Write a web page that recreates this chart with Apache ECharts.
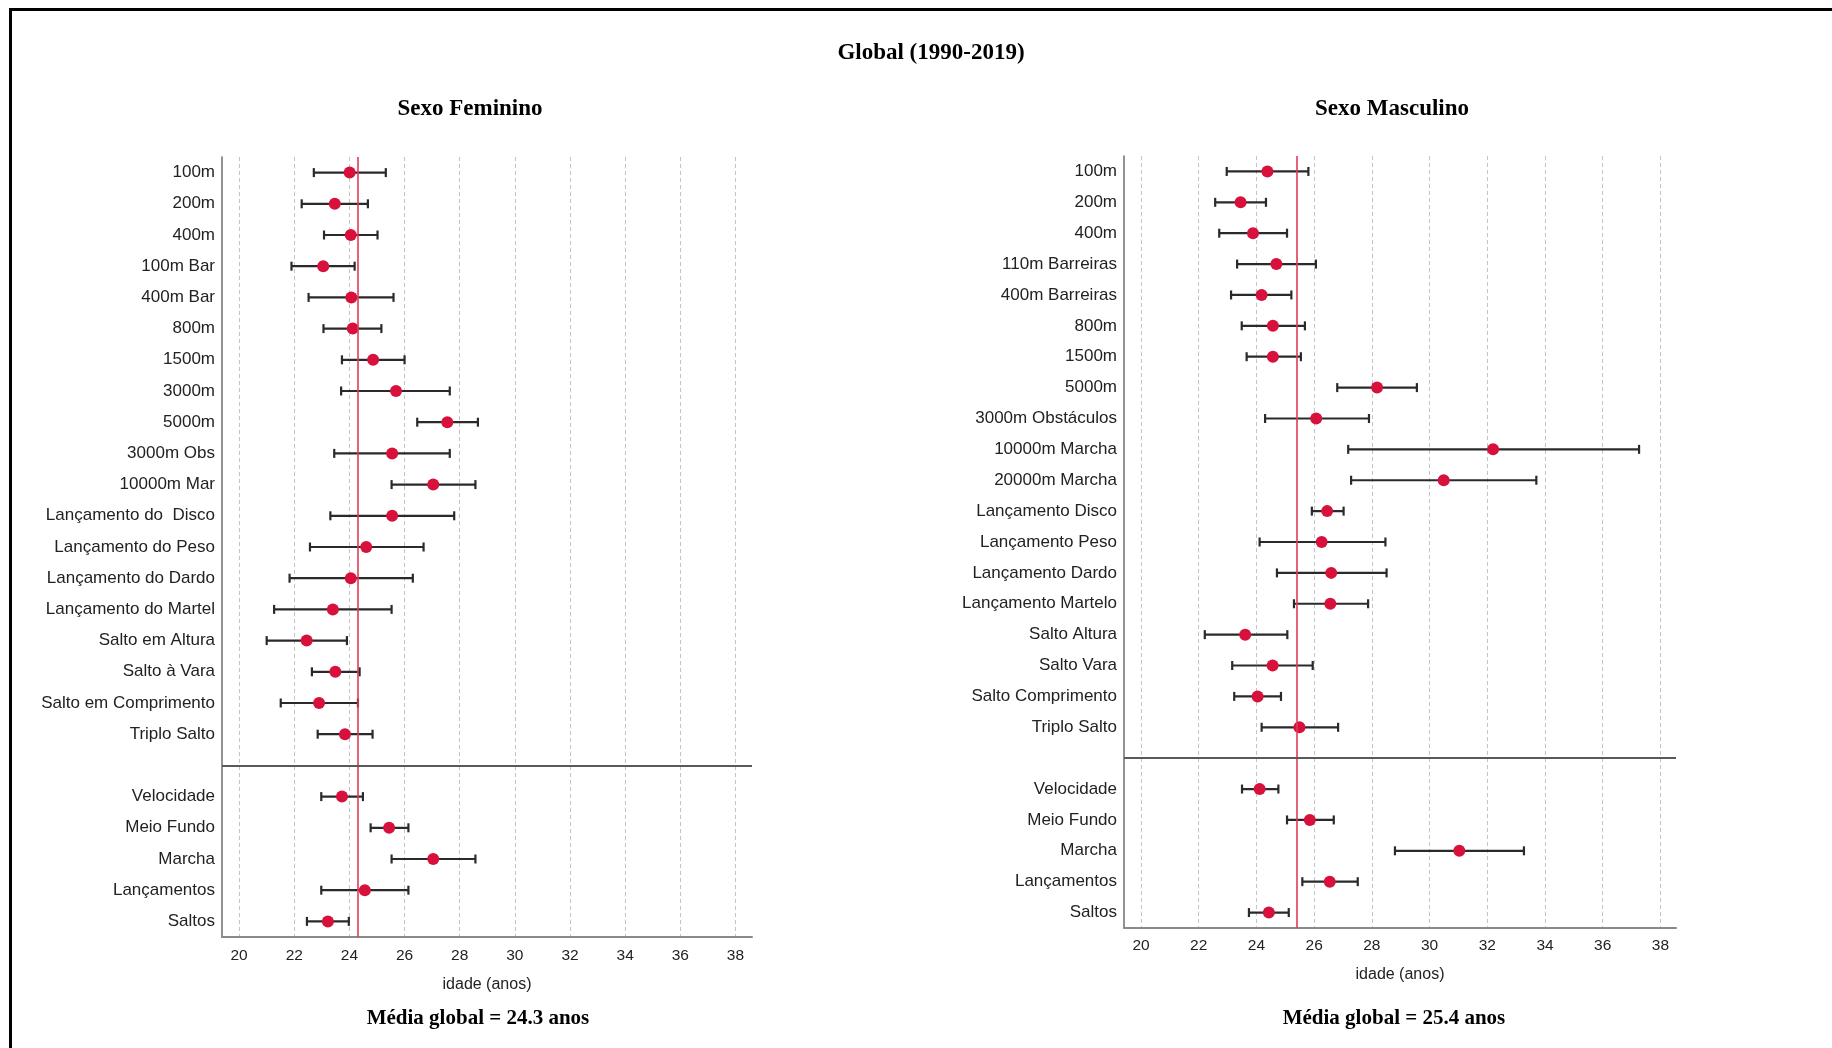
<!DOCTYPE html>
<html>
<head>
<meta charset="utf-8">
<title>Global (1990-2019)</title>
<script src="https://cdn.jsdelivr.net/npm/echarts@6/dist/echarts.min.js"></script>
<style>
  html, body { margin: 0; padding: 0; background: #ffffff; }
  #chart { width: 1832px; height: 1048px; }
</style>
</head>
<body>
<div id="chart"></div>
<script>
// Age axis tick values (years)
const ageTicks = [20, 22, 24, 26, 28, 30, 32, 34, 36, 38];

// Female: individual events
const femEvents = ['100m', '200m', '400m', '100m Bar', '400m Bar', '800m', '1500m', '3000m', '5000m',
  '3000m Obs', '10000m Mar', 'Lançamento do  Disco', 'Lançamento do Peso', 'Lançamento do Dardo',
  'Lançamento do Martel', 'Salto em Altura', 'Salto à Vara', 'Salto em Comprimento', 'Triplo Salto'];
const femEventMean = [24.01, 23.47, 24.05, 23.05, 24.07, 24.12, 24.86, 25.69, 27.55, 25.55, 27.04, 25.55, 24.61, 24.05, 23.40, 22.45, 23.49, 22.90, 23.84];
const femEventLow  = [22.71, 22.27, 23.08, 21.90, 22.52, 23.06, 23.73, 23.70, 26.46, 23.45, 25.53, 23.31, 22.57, 21.83, 21.27, 21.00, 22.64, 21.51, 22.85];
const femEventHigh = [25.32, 24.67, 25.02, 24.19, 25.60, 25.16, 26.00, 27.64, 28.66, 27.64, 28.57, 27.80, 26.69, 26.30, 25.53, 23.91, 24.37, 24.31, 24.84];

// Female: event groups
const femGroups = ['Velocidade', 'Meio Fundo', 'Marcha', 'Lançamentos', 'Saltos'];
const femGroupMean = [23.73, 25.44, 27.04, 24.56, 23.22];
const femGroupLow  = [22.98, 24.77, 25.53, 22.98, 22.46];
const femGroupHigh = [24.49, 26.14, 28.57, 26.14, 23.98];
const femOverall = 24.3;

// Male: individual events
const masEvents = ['100m', '200m', '400m', '110m Barreiras', '400m Barreiras', '800m', '1500m', '5000m',
  '3000m Obstáculos', '10000m Marcha', '20000m Marcha', 'Lançamento Disco', 'Lançamento Peso',
  'Lançamento Dardo', 'Lançamento Martelo', 'Salto Altura', 'Salto Vara', 'Salto Comprimento', 'Triplo Salto'];
const masEventMean = [24.38, 23.45, 23.88, 24.69, 24.18, 24.57, 24.57, 28.18, 26.07, 32.20, 30.49, 26.45, 26.26, 26.59, 26.56, 23.61, 24.56, 24.04, 25.49];
const masEventLow  = [22.97, 22.57, 22.71, 23.33, 23.12, 23.49, 23.66, 26.80, 24.30, 27.18, 27.28, 25.92, 24.11, 24.71, 25.30, 22.21, 23.16, 23.23, 24.18];
const masEventHigh = [25.80, 24.33, 25.06, 26.06, 25.21, 25.68, 25.54, 29.56, 27.90, 37.26, 33.70, 27.02, 28.47, 28.51, 27.87, 25.07, 25.95, 24.85, 26.83];

// Male: event groups
const masGroups = ['Velocidade', 'Meio Fundo', 'Marcha', 'Lançamentos', 'Saltos'];
const masGroupMean = [24.11, 25.85, 31.03, 26.54, 24.43];
const masGroupLow  = [23.50, 25.06, 28.80, 25.59, 23.74];
const masGroupHigh = [24.76, 26.68, 33.27, 27.51, 25.12];
const masOverall = 25.4;

// Empty row that separates events from groups
const GAP = ' ';

const MARKER_RED = '#d7103c';
const LINE_RED = '#e33b56';
const BAR_COLOR = '#2a2a2a';
const LABEL_FONT = '"Liberation Sans", Arial, sans-serif';
const SERIF_FONT = '"Liberation Serif", "Times New Roman", serif';

function buildPanel(idx, events, eMean, eLow, eHigh, groups, gMean, gLow, gHigh, overall) {
  const categories = events.concat([GAP], groups);
  const means = eMean.concat([null], gMean);
  const lows = eLow.concat([null], gLow);
  const highs = eHigh.concat([null], gHigh);

  const barData = [];
  const dotData = [];
  categories.forEach((c, i) => {
    if (means[i] == null) return;
    barData.push([lows[i], highs[i], i]);
    dotData.push([means[i], i]);
  });

  const series = [
    {
      type: 'custom',
      xAxisIndex: idx, yAxisIndex: idx,
      data: barData,
      encode: { x: [0, 1], y: 2 },
      silent: true,
      z: 3,
      renderItem(params, api) {
        const p0 = api.coord([api.value(0), api.value(2)]);
        const p1 = api.coord([api.value(1), api.value(2)]);
        const cap = 4.5;
        const style = { stroke: BAR_COLOR, lineWidth: 2.2 };
        return {
          type: 'group',
          children: [
            { type: 'line', shape: { x1: p0[0], y1: p0[1], x2: p1[0], y2: p1[1] }, style },
            { type: 'line', shape: { x1: p0[0], y1: p0[1] - cap, x2: p0[0], y2: p0[1] + cap }, style },
            { type: 'line', shape: { x1: p1[0], y1: p1[1] - cap, x2: p1[0], y2: p1[1] + cap }, style }
          ]
        };
      }
    },
    {
      type: 'scatter',
      xAxisIndex: idx, yAxisIndex: idx,
      data: dotData,
      symbol: 'circle',
      symbolSize: 12,
      itemStyle: { color: MARKER_RED, opacity: 1 },
      z: 4,
      silent: true,
      markLine: {
        silent: true,
        symbol: 'none',
        label: { show: false },
        animation: false,
        data: [
          { xAxis: overall, lineStyle: { color: LINE_RED, width: 1.6, type: 'solid' } },
          { yAxis: GAP, lineStyle: { color: '#5a5a5a', width: 2, type: 'solid' } }
        ]
      }
    }
  ];
  return { categories, series };
}

const fem = buildPanel(0, femEvents, femEventMean, femEventLow, femEventHigh, femGroups, femGroupMean, femGroupLow, femGroupHigh, femOverall);
const mas = buildPanel(1, masEvents, masEventMean, masEventLow, masEventHigh, masGroups, masGroupMean, masGroupLow, masGroupHigh, masOverall);

function xAxisFor(gridIndex, min, max, labelMargin, nameGap) {
  return {
    type: 'value',
    gridIndex,
    min, max,
    name: 'idade (anos)',
    nameLocation: 'middle',
    nameGap,
    nameTextStyle: { fontFamily: LABEL_FONT, fontSize: 16, color: '#222' },
    axisLine: { show: true, lineStyle: { color: '#8a8a8a', width: 2 } },
    axisTick: { show: false, customValues: ageTicks },
    axisLabel: { customValues: ageTicks, fontFamily: LABEL_FONT, fontSize: 15.5, color: '#222', margin: labelMargin },
    splitLine: { show: true, lineStyle: { color: '#c4c4c4', width: 1, type: [4, 3] } }
  };
}

function yAxisFor(gridIndex, categories) {
  return {
    type: 'category',
    gridIndex,
    data: categories,
    inverse: true,
    axisLine: { show: true, lineStyle: { color: '#6e6e6e', width: 1.5 } },
    axisTick: { show: false },
    splitLine: { show: false },
    axisLabel: { fontFamily: LABEL_FONT, fontSize: 17, color: '#222', margin: 7, interval: 0 }
  };
}

const option = {
  backgroundColor: '#ffffff',
  animation: false,
  grid: [
    { left: 222, top: 157, width: 530, height: 780, containLabel: false },
    { left: 1124, top: 156, width: 552, height: 772, containLabel: false }
  ],
  xAxis: [
    xAxisFor(0, 19.38, 38.60, 11, 40),
    xAxisFor(1, 19.41, 38.54, 10, 39)
  ],
  yAxis: [
    yAxisFor(0, fem.categories),
    yAxisFor(1, mas.categories)
  ],
  series: fem.series.concat(mas.series),
  graphic: [
    // page frame (top and left rules)
    { type: 'rect', shape: { x: 9, y: 8, width: 1823, height: 3 }, style: { fill: '#000' }, silent: true },
    { type: 'rect', shape: { x: 9, y: 8, width: 3, height: 1040 }, style: { fill: '#000' }, silent: true },
    { type: 'text', x: 931, y: 53, style: { text: 'Global (1990-2019)', font: 'bold 23px ' + SERIF_FONT, fill: '#000', align: 'center', verticalAlign: 'middle' } },
    { type: 'text', x: 470, y: 109, style: { text: 'Sexo Feminino', font: 'bold 23px ' + SERIF_FONT, fill: '#000', align: 'center', verticalAlign: 'middle' } },
    { type: 'text', x: 1392, y: 109, style: { text: 'Sexo Masculino', font: 'bold 23px ' + SERIF_FONT, fill: '#000', align: 'center', verticalAlign: 'middle' } },
    { type: 'text', x: 478, y: 1019, style: { text: 'Média global = ' + femOverall.toFixed(1) + ' anos', font: 'bold 21px ' + SERIF_FONT, fill: '#000', align: 'center', verticalAlign: 'middle' } },
    { type: 'text', x: 1394, y: 1019, style: { text: 'Média global = ' + masOverall.toFixed(1) + ' anos', font: 'bold 21px ' + SERIF_FONT, fill: '#000', align: 'center', verticalAlign: 'middle' } }
  ]
};

const chart = echarts.init(document.getElementById('chart'), null, { renderer: 'canvas' });
chart.setOption(option);
</script>
</body>
</html>
